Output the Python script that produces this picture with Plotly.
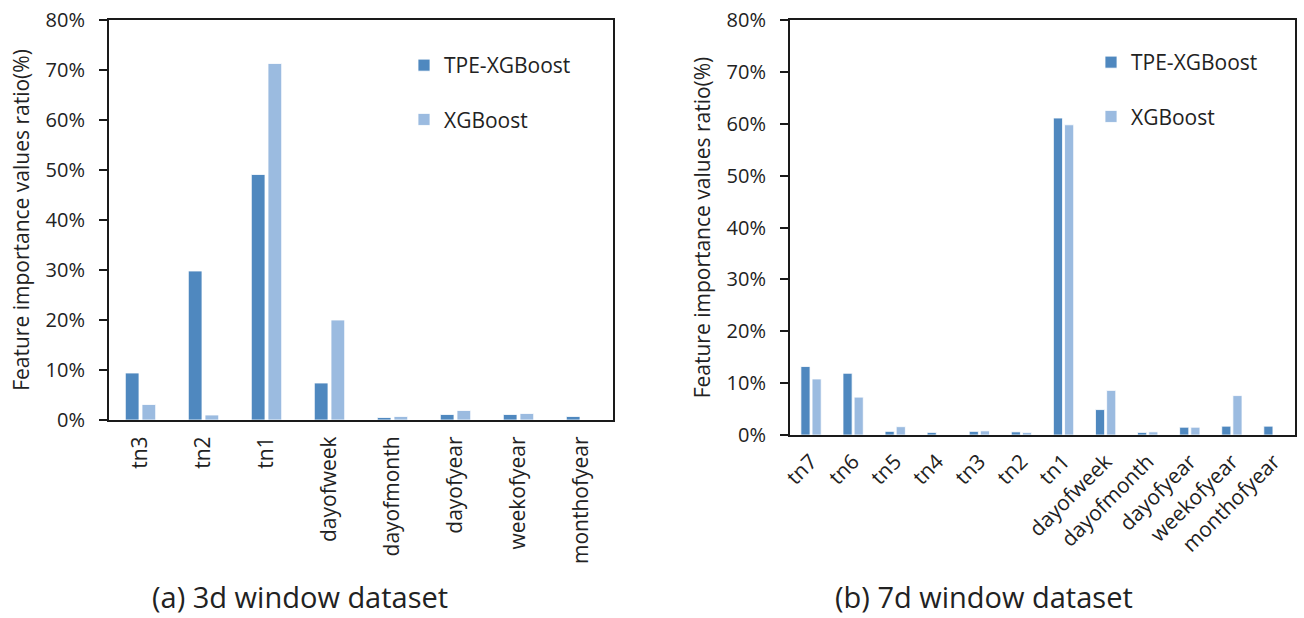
import plotly.graph_objects as go

# ---- data (percent) ----
cats_3d = ["tn3", "tn2", "tn1", "dayofweek", "dayofmonth", "dayofyear", "weekofyear", "monthofyear"]
tpe_3d = [9.4, 29.8, 49.1, 7.4, 0.5, 1.1, 1.1, 0.7]
xgb_3d = [3.1, 1.0, 71.3, 20.0, 0.7, 1.9, 1.3, 0.0]

cats_7d = ["tn7", "tn6", "tn5", "tn4", "tn3", "tn2", "tn1", "dayofweek", "dayofmonth",
           "dayofyear", "weekofyear", "monthofyear"]
tpe_7d = [13.2, 11.9, 0.7, 0.5, 0.7, 0.6, 61.1, 4.9, 0.5, 1.5, 1.7, 1.7]
xgb_7d = [10.8, 7.3, 1.6, 0.0, 0.8, 0.5, 59.8, 8.6, 0.6, 1.5, 7.6, 0.0]

series_names = ["TPE-XGBoost", "XGBoost"]
y_ticks = [0, 10, 20, 30, 40, 50, 60, 70, 80]
captions = ["(a) 3d window dataset", "(b) 7d window dataset"]
y_title = "Feature importance values ratio(%)"

# ---- style ----
W, H = 1304, 618
C_TPE = "#4F88BF"
C_XGB = "#9BBBE0"
FONT = "Open Sans"
TXT = "#222222"
AX = "#1a1a1a"

def px_x(p):
    return p / W

def px_y(p):
    return 1 - p / H

fig = go.Figure()

bar_line = dict(color="white", width=0.8)
fig.add_trace(go.Bar(x=cats_3d, y=tpe_3d, name=series_names[0], marker=dict(color=C_TPE, line=bar_line),
                     xaxis="x", yaxis="y", legend="legend", legendgroup="a1"))
fig.add_trace(go.Bar(x=cats_3d, y=xgb_3d, name=series_names[1], marker=dict(color=C_XGB, line=bar_line),
                     xaxis="x", yaxis="y", legend="legend", legendgroup="a2"))
fig.add_trace(go.Bar(x=cats_7d, y=tpe_7d, name=series_names[0], marker=dict(color=C_TPE, line=bar_line),
                     xaxis="x2", yaxis="y2", legend="legend2", legendgroup="b1"))
fig.add_trace(go.Bar(x=cats_7d, y=xgb_7d, name=series_names[1], marker=dict(color=C_XGB, line=bar_line),
                     xaxis="x2", yaxis="y2", legend="legend2", legendgroup="b2"))

yax_common = dict(range=[0, 80], tickvals=y_ticks, ticktext=[f"{v}%" for v in y_ticks],
                  showgrid=False, zeroline=False, showline=True, linecolor=AX, linewidth=2,
                  mirror=True, ticks="outside", ticklen=8, tickwidth=1.5, tickcolor=AX,
                  tickfont=dict(family=FONT, size=20, color=TXT), ticklabelstandoff=10,
                  title=dict(text=y_title, font=dict(family=FONT, size=21, color=TXT), standoff=10),
                  automargin=False, fixedrange=True)
xax_common = dict(showgrid=False, zeroline=False, showline=True, linecolor=AX, linewidth=2,
                  mirror=True, ticks="", tickfont=dict(family=FONT, size=21, color=TXT),
                  automargin=False, fixedrange=True)

legend_common = dict(xanchor="left", yanchor="top", bgcolor="rgba(0,0,0,0)",
                     font=dict(family=FONT, size=21, color=TXT), traceorder="grouped",
                     tracegroupgap=24, itemclick=False, itemdoubleclick=False)

fig.update_layout(
    width=W, height=H,
    margin=dict(l=0, r=0, t=0, b=0),
    paper_bgcolor="white", plot_bgcolor="white",
    barmode="group", bargap=0.47, bargroupgap=0.18,
    xaxis=dict(domain=[px_x(109), px_x(613)], anchor="y", tickangle=-90, ticklabelstandoff=6, **xax_common),
    yaxis=dict(domain=[px_y(420), px_y(20)], anchor="x", **yax_common),
    xaxis2=dict(domain=[px_x(790), px_x(1295)], anchor="y2", tickangle=-45, ticklabelstandoff=4, **xax_common),
    yaxis2=dict(domain=[px_y(435), px_y(20)], anchor="x2", **yax_common),
    legend=dict(x=px_x(404), y=px_y(45), **legend_common),
    legend2=dict(x=px_x(1091), y=px_y(42), **legend_common),
    showlegend=True,
    annotations=[
        dict(text=captions[0], x=px_x(300), y=px_y(596), xref="paper", yref="paper", showarrow=False,
             xanchor="center", yanchor="middle", font=dict(family=FONT, size=29, color=TXT)),
        dict(text=captions[1], x=px_x(984), y=px_y(596), xref="paper", yref="paper", showarrow=False,
             xanchor="center", yanchor="middle", font=dict(family=FONT, size=29, color=TXT)),
    ],
)

fig.write_html("out.html", config={"displayModeBar": False},
               post_script="document.body.style.margin='0px';")
